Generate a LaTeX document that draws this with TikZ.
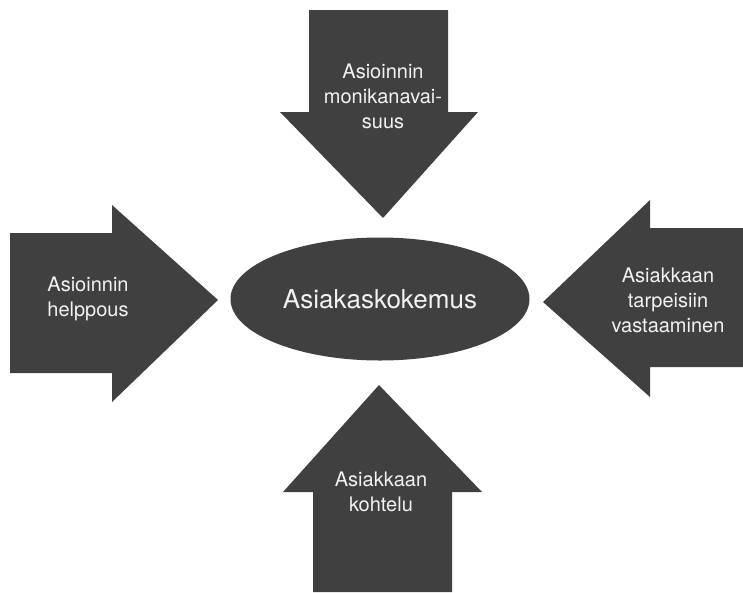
\documentclass[tikz,border=0pt]{standalone}
\usepackage{fontspec}
\setmainfont{TeX Gyre Heros}
\usetikzlibrary{shapes.geometric}
\definecolor{blockgray}{HTML}{404040}
\definecolor{textgray}{HTML}{F2F2F2}
\tikzset{
    blockarrow/.style={fill=blockgray},
    arrowtext/.style={text=textgray, align=center, font=\fontsize{20}{25}\selectfont},
    centerblob/.style={ellipse, fill=blockgray, text=textgray, inner sep=0pt,
        minimum width=299pt, minimum height=123pt, font=\fontsize{26}{30}\selectfont}
}
\begin{document}
\begin{tikzpicture}[x=1pt, y=-1pt]
    \useasboundingbox (0,0) rectangle (743,592);
    \fill[blockarrow] (309,10) -- (448,10) -- (448,112) -- (478,112) -- (383,218) -- (280,112) -- (309,112) -- cycle;
    \fill[blockarrow] (10,233) -- (112,233) -- (112,205) -- (218,300) -- (112,402) -- (112,373) -- (10,373) -- cycle;
    \fill[blockarrow] (743,228) -- (650,228) -- (650,200) -- (543,302) -- (650,397) -- (650,367) -- (743,367) -- cycle;
    \fill[blockarrow] (313,592) -- (313,492) -- (283,492) -- (379,385) -- (482,492) -- (452,492) -- (452,592) -- cycle;
    \node[centerblob] (kokemus) at (380,299) {Asiakaskokemus};
    \node[arrowtext] (monikanava) at (383,96) {Asioinnin\\monikanavai-\\suus};
    \node[arrowtext] (helppous) at (88,299) {Asioinnin\\helppous};
    \node[arrowtext] (tarpeet) at (668,300) {Asiakkaan\\tarpeisiin\\vastaaminen};
    \node[arrowtext] (kohtelu) at (381,492) {Asiakkaan\\kohtelu};
\end{tikzpicture}
\end{document}
